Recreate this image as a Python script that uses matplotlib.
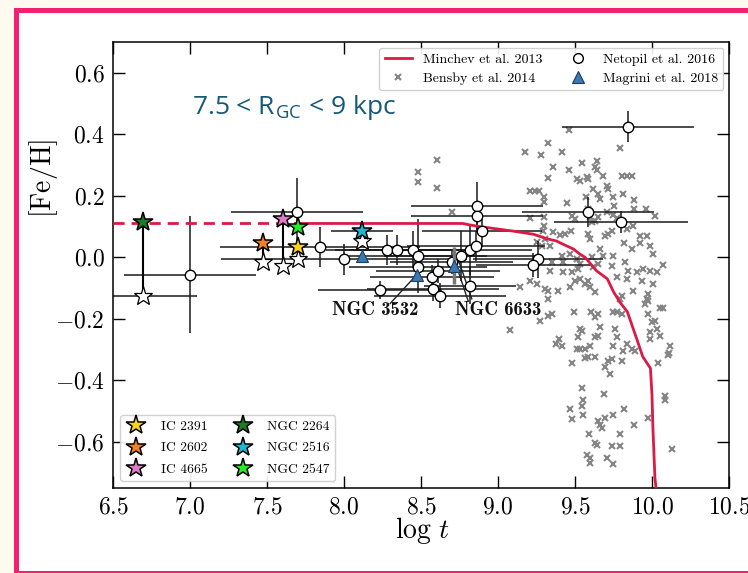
import numpy as np
import matplotlib
matplotlib.use("Agg")
import matplotlib.pyplot as plt
from matplotlib.patches import Rectangle
from matplotlib.lines import Line2D
from matplotlib.ticker import FuncFormatter

plt.rcParams.update({
    "font.family": "serif",
    "font.serif": ["cmr10"],
    "mathtext.fontset": "cm",
    "axes.formatter.use_mathtext": True,
    "axes.linewidth": 1.1,
})

# Minchev et al. 2013 chemical-evolution model (dashed where extrapolated)
minchev_dash_logt = [6.5, 7.72]
minchev_dash_feh = [0.11, 0.11]
minchev_logt = [7.72, 8.77, 8.82, 8.88, 9.10, 9.23, 9.32, 9.38, 9.42, 9.49, 9.53,
                9.565, 9.64, 9.71, 9.75, 9.79, 9.84, 9.90, 9.94, 9.99, 10.0,
                10.006, 10.019, 10.03]
minchev_feh = [0.11, 0.11, 0.105, 0.10, 0.085, 0.075, 0.06, 0.053, 0.043, 0.027,
               0.011, 0.0, -0.044, -0.07, -0.112, -0.145, -0.177, -0.264, -0.323,
               -0.361, -0.449, -0.556, -0.717, -0.77]

# Bensby et al. 2014 field stars
bensby_logt = [
    9.461, 9.325, 9.175, 9.279, 9.416, 9.792, 8.604, 8.481, 8.481, 8.604,
    9.357, 9.461, 9.545, 9.643, 9.630, 9.643, 9.682, 9.325, 9.513, 9.578,
    9.532, 9.584, 9.805, 9.838, 9.870, 9.208, 9.240, 9.266, 9.299, 9.299,
    9.448, 9.571, 9.617, 9.649, 9.662, 9.708, 9.714, 9.747, 9.812, 9.883,
    9.753, 9.883, 9.961, 10.019, 8.701, 9.208, 9.299, 9.299, 9.481, 9.500,
    9.584, 9.597, 9.630, 9.649, 9.610, 9.708, 9.747, 9.773, 9.838, 9.877,
    9.292, 9.357, 9.403, 9.435, 9.474, 9.584, 9.597, 9.695, 9.714, 9.740,
    9.818, 9.870, 9.922, 9.968, 9.987, 9.922, 10.006, 9.253, 9.338, 9.662,
    9.682, 9.747, 9.740, 9.825, 9.844, 9.903, 9.942, 9.987, 10.032, 10.071,
    9.416, 9.468, 9.422, 9.513, 9.532, 9.610, 9.649, 9.617, 9.351, 9.338,
    9.422, 9.481, 9.519, 9.532, 9.500, 9.584, 9.630, 9.208, 9.253, 9.143,
    9.305, 9.325, 9.390, 9.468, 9.565, 9.597, 9.773, 9.838, 9.877, 9.935,
    10.006, 9.974, 9.325, 9.273, 9.325, 9.351, 9.078, 9.494, 9.604, 9.649,
    9.630, 9.747, 9.773, 9.805, 9.805, 9.792, 9.955, 9.968, 9.974, 10.052,
    10.071, 9.974, 10.0, 10.019, 10.032, 9.987, 10.052, 9.987, 9.532, 9.519,
    9.545, 9.649, 9.630, 9.662, 9.760, 9.773, 9.747, 9.597, 9.584, 9.630,
    9.513, 9.532, 9.565, 9.838, 9.812, 9.870, 9.890, 9.396, 9.377, 9.416,
    9.805, 9.740, 9.714, 9.695, 9.727, 9.565, 9.481, 10.117, 10.110, 10.104,
    10.039, 9.545, 9.552, 9.545, 9.688, 9.468, 9.481, 9.552, 9.649, 9.662,
    9.675, 9.695, 9.747, 9.818, 9.883, 9.974, 10.084, 10.084, 9.591, 9.792,
    9.630, 9.643, 9.740, 9.792, 9.578, 9.597, 9.597, 9.708, 9.747, 10.130,
    9.286, 9.305,
]
bensby_feh = [
    0.415, 0.373, 0.344, 0.334, 0.344, 0.354, 0.315, 0.276, 0.244, 0.224,
    0.295, 0.283, 0.305, 0.312, 0.292, 0.283, 0.263, 0.257, 0.253, 0.260,
    0.247, 0.253, 0.263, 0.263, 0.263, 0.215, 0.215, 0.215, 0.195, 0.179,
    0.176, 0.195, 0.221, 0.205, 0.189, 0.231, 0.221, 0.195, 0.205, 0.185,
    0.166, 0.156, 0.156, 0.134, 0.147, 0.127, 0.130, 0.101, 0.134, 0.124,
    0.156, 0.130, 0.117, 0.130, 0.114, 0.147, 0.137, 0.127, 0.092, 0.101,
    0.085, 0.082, 0.072, 0.075, 0.085, 0.075, 0.059, 0.069, 0.075, 0.085,
    0.046, 0.027, 0.046, 0.069, 0.037, 0.069, 0.011, 0.050, 0.037, 0.027,
    0.004, 0.004, -0.028, -0.015, -0.044, -0.048, -0.038, -0.044, -0.048, -0.025,
    0.004, 0.011, -0.015, -0.006, -0.022, 0.001, -0.022, -0.031, -0.015, -0.044,
    -0.048, -0.048, -0.038, -0.070, -0.077, -0.077, -0.112, -0.077, -0.086, -0.096,
    -0.103, -0.109, -0.109, -0.096, -0.086, -0.096, -0.064, -0.070, -0.109, -0.077,
    -0.086, -0.119, -0.135, -0.206, -0.190, -0.184, -0.235, -0.177, -0.177, -0.184,
    -0.193, -0.177, -0.177, -0.184, -0.125, -0.135, -0.151, -0.135, -0.141, -0.164,
    -0.164, -0.184, -0.209, -0.206, -0.232, -0.242, -0.255, -0.264, -0.232, -0.258,
    -0.239, -0.255, -0.258, -0.226, -0.232, -0.258, -0.287, -0.287, -0.323, -0.323,
    -0.297, -0.297, -0.297, -0.281, -0.303, -0.297, -0.303, -0.264, -0.281, -0.287,
    -0.336, -0.329, -0.336, -0.355, -0.378, -0.326, -0.345, -0.287, -0.310, -0.316,
    -0.345, -0.426, -0.465, -0.484, -0.446, -0.494, -0.527, -0.514, -0.533, -0.546,
    -0.556, -0.523, -0.514, -0.494, -0.546, -0.523, -0.452, -0.465, -0.575, -0.575,
    -0.604, -0.611, -0.614, -0.614, -0.643, -0.653, -0.669, -0.653, -0.672, -0.624,
    0.037, 0.059,
]

# Netopil et al. 2016 open clusters
netopil_logt = [7.00, 7.695, 7.844, 8.00, 8.28, 8.344, 8.448, 8.48, 8.48, 8.234,
                8.571, 8.61, 8.578, 8.623, 8.76, 8.818, 8.857, 8.864, 8.864, 8.896,
                8.818, 9.26, 9.227, 9.584, 9.799, 9.844, 8.70]
netopil_feh = [-0.057, 0.147, 0.034, -0.006, 0.024, 0.024, 0.024, 0.004, -0.031, -0.106,
               -0.064, -0.044, -0.103, -0.125, 0.004, 0.024, 0.037, 0.166, 0.134, 0.085,
               -0.093, -0.006, -0.025, 0.147, 0.114, 0.425, -0.015]
netopil_logt_err = [0.43, 0.43, 0.65, 0.80, 0.40, 0.40, 0.40, 0.45, 0.45, 0.40,
                    0.40, 0.40, 0.43, 0.43, 0.50, 0.40, 0.45, 0.43, 0.43, 0.39,
                    0.30, 0.42, 0.37, 0.43, 0.435, 0.43, 0.40]
netopil_feh_err = [0.19, 0.11, 0.066, 0.05, 0.05, 0.05, 0.06, 0.12, 0.04, 0.03,
                   0.04, 0.04, 0.04, 0.04, 0.08, 0.08, 0.05, 0.08, 0.05, 0.05,
                   0.06, 0.06, 0.04, 0.05, 0.035, 0.05, 0.04]

# Magrini et al. 2018 (Gaia-ESO)
magrini_logt = [8.117, 8.474, 8.714]
magrini_feh = [0.004, -0.057, -0.028]
magrini_feh_err = [0.0, 0.0, 0.06]

# Young clusters: this work (coloured) vs. previous determinations (white)
star_names = ["IC 2391", "IC 2602", "IC 4665", "NGC 2264", "NGC 2516", "NGC 2547"]
star_colors = ["#ffd21a", "#f6801f", "#e17ac7", "#1f7a24", "#1fb8d2", "#22ee22"]
star_logt = [7.70, 7.474, 7.604, 6.695, 8.117, 7.70]
star_feh = [0.033, 0.046, 0.124, 0.114, 0.085, 0.10]
star_logt_err = [0.0, 0.0, 0.0, 0.0, 0.2, 0.0]
prev_feh = [-0.006, -0.015, -0.028, -0.125, 0.053, np.nan]
prev_logt_err = [0.0, 0.0, 0.0, 0.35, 0.0, 0.0]

x_ticks = [6.5, 7.0, 7.5, 8.0, 8.5, 9.0, 9.5, 10.0, 10.5]
y_ticks = [-0.6, -0.4, -0.2, 0.0, 0.2, 0.4, 0.6]

PINK = "#f2206e"
RED = "#dc1a45"

fig = plt.figure(figsize=(7.48, 5.73), dpi=100)
fig.patch.set_facecolor("#fffaf0")
W, H = 748, 573
card = Rectangle((15.5 / W, 0.5 / H), 760 / W, (H - 10.0 - 0.5) / H,
                 transform=fig.transFigure, facecolor="white", edgecolor=PINK,
                 linewidth=3.6, zorder=-5)
fig.patches.append(card)

ax = fig.add_axes([113 / W, 85 / H, 616 / W, 446 / H])
ax.set_zorder(1)
ax.set_xlim(6.5, 10.5)
ax.set_ylim(-0.75, 0.7)

ax.plot(bensby_logt, bensby_feh, ls="none", marker="x", ms=5, mew=1.5,
        color="#858585", zorder=1)

ax.errorbar(netopil_logt, netopil_feh, xerr=netopil_logt_err, yerr=netopil_feh_err,
            fmt="none", ecolor="#1a1a1a", elinewidth=1.1, capsize=0, zorder=2)

ax.plot(minchev_dash_logt, minchev_dash_feh, color=RED, lw=2.0, ls=(0, (4, 2.5)),
        zorder=3)
ax.plot(minchev_logt, minchev_feh, color=RED, lw=2.0, zorder=3)

ax.plot(netopil_logt, netopil_feh, ls="none", marker="o", ms=7.5, mfc="white",
        mec="black", mew=1.0, zorder=4)

ax.errorbar(magrini_logt, magrini_feh, yerr=magrini_feh_err, fmt="none",
            ecolor="#777777", elinewidth=2.5, capsize=0, zorder=4)
ax.plot(magrini_logt, magrini_feh, ls="none", marker="^", ms=9, mfc="#3b78b4",
        mec="#1d3e5e", mew=0.8, zorder=5)

for lt, fe, pfe, sx, px in zip(star_logt, star_feh, prev_feh, star_logt_err, prev_logt_err):
    if not np.isnan(pfe):
        ax.plot([lt, lt], [fe, pfe], color="black", lw=1.5, zorder=5)
        if px > 0:
            ax.errorbar([lt], [pfe], xerr=[px], fmt="none", ecolor="#1a1a1a",
                        elinewidth=1.1, capsize=0, zorder=2)
        ax.plot([lt], [pfe], marker="*", ms=14, mfc="white", mec="black",
                mew=0.9, ls="none", zorder=6)
    if sx > 0:
        ax.errorbar([lt], [fe], xerr=[sx], fmt="none", ecolor="#1a1a1a",
                    elinewidth=1.1, capsize=0, zorder=2)

star_handles = []
for lt, fe, name, col in zip(star_logt, star_feh, star_names, star_colors):
    h, = ax.plot([lt], [fe], marker="*", ms=15, mfc=col, mec="black", mew=1.1,
                 ls="none", zorder=7, label=name)
    star_handles.append(h)

# Cluster annotations
bold = dict(fontsize=13.5, color="#111111", ha="center", va="center", family="cmb10")
ax.text(8.20, -0.172, "NGC 3532", **bold)
ax.text(9.00, -0.172, "NGC 6633", **bold)
ax.plot([8.30, 8.462], [-0.150, -0.062], color="#222222", lw=1.0, zorder=3)
ax.plot([8.805, 8.735], [-0.140, -0.035], color="#222222", lw=1.0, zorder=3)
ax.plot([8.83, 8.745], [-0.135, -0.012], color="#222222", lw=1.0, zorder=3)

ax.text(0.128, 0.838, r"7.5 < R$_{\mathregular{GC}}$ < 9 kpc", transform=ax.transAxes,
        fontsize=19, color="#17587a", family="Open Sans", ha="left", va="baseline")

ax.set_xlabel(r"$\log\,t$", fontsize=20)
ax.set_ylabel(r"$[\mathrm{Fe/H}]$", fontsize=20)
ax.xaxis.set_label_coords(0.503, -0.060)
ax.yaxis.set_label_coords(-0.086, 0.695)
ax.set_xticks(x_ticks)
ax.set_yticks(y_ticks)
mathfmt = FuncFormatter(lambda v, _: rf"${v:.1f}$")
ax.xaxis.set_major_formatter(mathfmt)
ax.yaxis.set_major_formatter(mathfmt)
ax.tick_params(direction="in", length=8.5, width=1.0, top=True, right=True,
               labelsize=17, pad=6)

src_handles = [
    Line2D([], [], color=RED, lw=2.0),
    Line2D([], [], ls="none", marker="x", ms=5, mew=1.5, color="#858585"),
    Line2D([], [], ls="none", marker="o", ms=7, mfc="white", mec="black"),
    Line2D([], [], ls="none", marker="^", ms=9, mfc="#3b78b4", mec="#1d3e5e", mew=0.8),
]
src_labels = ["Minchev et al. 2013", "Bensby et al. 2014",
              "Netopil et al. 2016", "Magrini et al. 2018"]
leg1 = ax.legend(src_handles, src_labels, loc="upper right", ncol=2, fontsize=10,
                 frameon=True, framealpha=0.9, edgecolor="#cccccc", handlelength=2.0,
                 handletextpad=0.8, columnspacing=1.5, borderaxespad=0.4,
                 labelspacing=0.45)
ax.add_artist(leg1)
ax.legend(star_handles, star_names, loc="lower left", ncol=2, fontsize=9.8,
          frameon=True, framealpha=0.9, edgecolor="#cccccc", handlelength=1.6,
          columnspacing=1.8, borderaxespad=0.5, labelspacing=0.65, handletextpad=1.0)

fig.savefig("out.png", dpi=100, facecolor=fig.get_facecolor())
